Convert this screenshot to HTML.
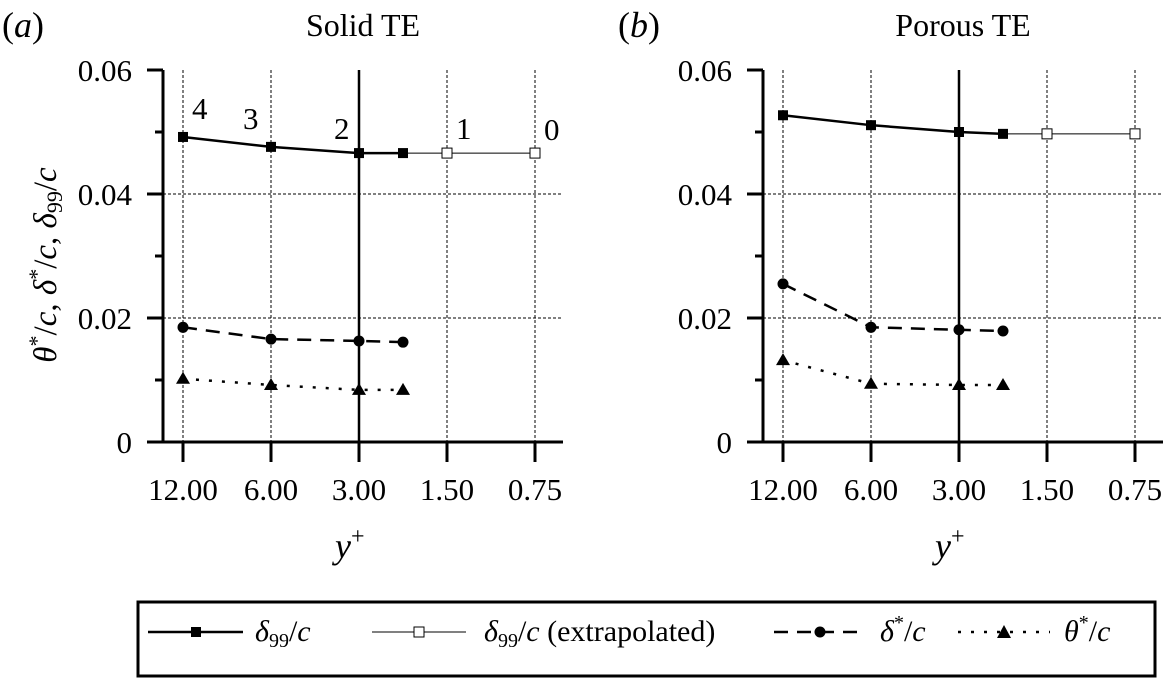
<!DOCTYPE html>
<html><head><meta charset="utf-8"><style>
body{margin:0;background:#fff;}
svg{display:block;font-family:"Liberation Serif",serif;}
</style></head><body>
<svg id="fig" width="1166" height="679" viewBox="0 0 1166 679">
<g id="legend">
<rect x="138" y="602" width="1017" height="74" fill="none" stroke="#000" stroke-width="3"/>
<g>
<line x1="148" y1="632" x2="243" y2="632" stroke="#000" stroke-width="2.5"/><rect x="191" y="627" width="10" height="10" fill="#000"/>
<text x="255" y="641" font-size="30"><tspan font-style="italic">δ</tspan><tspan font-size="20" dy="6">99</tspan><tspan dy="-6">/</tspan><tspan font-style="italic">c</tspan></text></g>
<g>
<line x1="372" y1="632" x2="466" y2="632" stroke="#000" stroke-width="1"/><rect x="414" y="627" width="10" height="10" fill="#fff" stroke="#000"/>
<text x="484" y="641" font-size="30"><tspan font-style="italic">δ</tspan><tspan font-size="20" dy="6">99</tspan><tspan dy="-6">/</tspan><tspan font-style="italic">c</tspan> (extrapolated)</text></g>
<g>
<line x1="774" y1="632" x2="866" y2="632" stroke="#000" stroke-width="2.5" stroke-dasharray="14,9"/><circle cx="820" cy="632" r="5.5"/>
<text x="880" y="641" font-size="30"><tspan font-style="italic">δ</tspan><tspan font-size="20" dy="-12">*</tspan><tspan dy="12">/</tspan><tspan font-style="italic">c</tspan></text></g>
<g>
<line x1="958" y1="632" x2="1050" y2="632" stroke="#000" stroke-width="2.5" stroke-dasharray="3,10"/><polygon points="1004,625 1011,638 997,638"/>
<text x="1064" y="641" font-size="30"><tspan font-style="italic">θ</tspan><tspan font-size="20" dy="-12">*</tspan><tspan dy="12">/</tspan><tspan font-style="italic">c</tspan></text></g>
</g>
<text transform="translate(56,265) rotate(-90)" text-anchor="middle" font-size="33"><tspan font-style="italic">θ</tspan><tspan font-size="22" dy="-12">*</tspan><tspan dy="12">/</tspan><tspan font-style="italic">c</tspan>, <tspan font-style="italic">δ</tspan><tspan font-size="22" dy="-12">*</tspan><tspan dy="12">/</tspan><tspan font-style="italic">c</tspan>, <tspan font-style="italic">δ</tspan><tspan font-size="22" dy="6">99</tspan><tspan dy="-6">/</tspan><tspan font-style="italic">c</tspan></text>
</svg>
<script>
const xTickLabels=["12.00","6.00","3.00","1.50","0.75"];
const xTickPos=[0,1,2,3,4];
const yTicks=[0,0.02,0.04,0.06];
const yTickLabels=["0","0.02","0.04","0.06"];
const xMeasured=[0,1,2,2.5];
const xExtrap=[2.5,3,4];
const solidD99=[0.0492,0.0476,0.0466,0.0466];
const solidD99Ext=[0.0466,0.0466,0.0466];
const solidDs=[0.0185,0.0166,0.0163,0.0161];
const solidTh=[0.0102,0.0092,0.0084,0.0084];
const porousD99=[0.0527,0.0511,0.0500,0.0497];
const porousD99Ext=[0.0497,0.0497,0.0497];
const porousDs=[0.0255,0.0185,0.0181,0.0179];
const porousTh=[0.0132,0.0094,0.0092,0.0092];
const pointLabels=["4","3","2","1","0"];

const NS="http://www.w3.org/2000/svg";
const svg=document.getElementById('fig');
function mk(tag,attrs,parent){const e=document.createElementNS(NS,tag);for(const k in attrs)e.setAttribute(k,attrs[k]);parent.appendChild(e);return e;}
function panel(off,title,letter,d99,d99e,ds,th,showNums,name){
  const g=mk('g',{},svg);
  
  
  const X=v=>183+off+v*88;
  const Y=v=>442-v*6200;
  xTickPos.forEach((p,i)=>{const l=mk('line',{x1:X(p),x2:X(p),y1:70,y2:442,stroke:'#000','stroke-width':i==2?2.5:1,'stroke-dasharray':i==2?'none':'3,2'},g);
    
    });
  [0.02,0.04].forEach(v=>{const l=mk('line',{x1:163+off,x2:563+off,y1:Y(v),y2:Y(v),stroke:'#000','stroke-width':1,'stroke-dasharray':'3,2'},g);
    
    });
  mk('line',{x1:163+off,x2:163+off,y1:Y(0.06),y2:443,stroke:'#000','stroke-width':3},g);
  const xa=mk('line',{x1:147+off,x2:563+off,y1:442,y2:442,stroke:'#000','stroke-width':3},g);
  
  
  yTicks.forEach((v,i)=>{mk('line',{x1:147+off,x2:163+off,y1:Y(v),y2:Y(v),stroke:'#000','stroke-width':3},g);
    const t=mk('text',{x:132+off,y:Y(v)+11,'text-anchor':'end','font-size':31},g);t.textContent=yTickLabels[i];
    
    });
  [0.01,0.03,0.05].forEach(v=>mk('line',{x1:155+off,x2:163+off,y1:Y(v),y2:Y(v),stroke:'#000','stroke-width':3},g));
  xTickPos.forEach((p,i)=>{mk('line',{x1:X(p),x2:X(p),y1:442,y2:462,stroke:'#000','stroke-width':3},g);
    const t=mk('text',{x:X(p),y:500,'text-anchor':'middle','font-size':31},g);t.textContent=xTickLabels[i];
    
    });
  const xt=mk('text',{x:X(2)-24,y:558,'font-size':36,'font-style':'italic'},g);
  xt.innerHTML='y<tspan font-size="24" dy="-14" font-style="normal">+</tspan>';
  
  
  const tt=mk('text',{x:363+off,y:36,'text-anchor':'middle','font-size':32},g);tt.textContent=title;
  
  
  const lt=mk('text',{x:2+off+(off?16:0),y:37,'font-size':36},g);lt.innerHTML='(<tspan font-style="italic">'+letter+'</tspan>)';
  
  
  const pts=(xs,ys)=>xs.map((x,i)=>X(x)+','+Y(ys[i])).join(' ');
  let s=mk('polyline',{points:pts(xExtrap,d99e),fill:'none',stroke:'#000','stroke-width':1},g);
  
  
  xExtrap.slice(1).forEach((x,i)=>{const r=mk('rect',{x:X(x)-5,y:Y(d99e[i+1])-5,width:10,height:10,fill:'#fff',stroke:'#000'},g);
    
    });
  s=mk('polyline',{points:pts(xMeasured,d99),fill:'none',stroke:'#000','stroke-width':2.5},g);
  
  
  xMeasured.forEach((x,i)=>{const r=mk('rect',{x:X(x)-5,y:Y(d99[i])-5,width:10,height:10,fill:'#000'},g);
    
    });
  s=mk('polyline',{points:pts(xMeasured,ds),fill:'none',stroke:'#000','stroke-width':2.5,'stroke-dasharray':'14,9'},g);
  
  
  xMeasured.forEach((x,i)=>{const c=mk('circle',{cx:X(x),cy:Y(ds[i]),r:5.5},g);
    
    });
  s=mk('polyline',{points:pts(xMeasured,th),fill:'none',stroke:'#000','stroke-width':2.5,'stroke-dasharray':'3,10'},g);
  
  
  xMeasured.forEach((x,i)=>{const cx=X(x),cy=Y(th[i]);const p=mk('polygon',{points:`${cx},${cy-7} ${cx+7},${cy+5} ${cx-7},${cy+5}`},g);
    
    });
  if(showNums){xTickPos.forEach((p,i)=>{const t=mk('text',{x:X(p)+(i==2?-25:i==1?-28:9),y:i<2?(i==0?119:129):(i==4?140:139),'font-size':31},g);t.textContent=pointLabels[i];
    
    });}
}
panel(0,"Solid TE","a",solidD99,solidD99Ext,solidDs,solidTh,true,'panel-solid-te');
panel(600,"Porous TE","b",porousD99,porousD99Ext,porousDs,porousTh,false,'panel-porous-te');
</script>
</body></html>
